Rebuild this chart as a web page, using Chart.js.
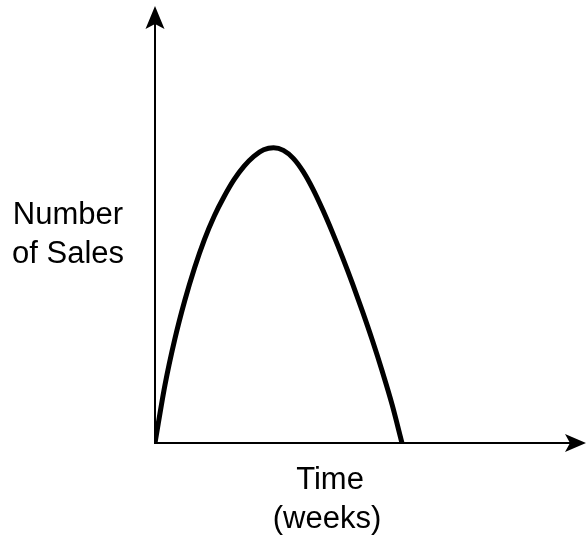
<!DOCTYPE html>
<html lang="en">
  <head>
    <meta charset="UTF-8" />
    <title>Sales over time</title>
    <script src="https://cdn.jsdelivr.net/npm/chart.js@4.4.0/dist/chart.umd.min.js"></script>
    <style>
      body { margin: 0; background: #fff; }
    </style>
  </head>
<body>
<canvas id="chart" width="587" height="536"></canvas>
<script>
  // values (weeks vs. relative sales)
  const weeks = [0, 0.4, 0.8, 1.2, 1.6, 2.0, 2.4, 2.8, 3.2, 3.6, 4.0, 4.4, 4.8,
                 5.2, 5.6, 6.0, 6.4, 6.8, 7.2, 7.6, 8.0, 8.4, 8.8, 9.2, 9.6, 10.0];
  const sales = [0, 19.5, 35.1, 48.1, 59.3, 68.9, 76.9, 83.5, 89.2, 93.7, 97.1, 99.3, 100,
                 99.1, 96.4, 91.9, 85.9, 78.8, 71.0, 62.7, 53.9, 44.6, 34.8, 24.3, 13.0, 0];
  const yLabel = ['Number', 'of Sales'];
  const xLabel = ['Time', '(weeks)'];

  const points = weeks.map((w, i) => ({ x: w, y: sales[i] }));

  // draws the two axes with arrow heads and the labels
  const axesPlugin = {
    id: 'axes',
    afterDraw(chart) {
      const ctx = chart.ctx;
      const x0 = chart.scales.x.getPixelForValue(0);
      const y0 = chart.scales.y.getPixelForValue(0);
      const top = chart.chartArea.top;
      const right = chart.chartArea.right;
      ctx.save();
      ctx.strokeStyle = '#000';
      ctx.fillStyle = '#000';
      ctx.lineWidth = 2;
      ctx.beginPath();
      ctx.moveTo(x0, y0 + 1);
      ctx.lineTo(x0, top + 15);
      ctx.moveTo(x0 - 1, y0);
      ctx.lineTo(right - 15, y0);
      ctx.stroke();

      // y arrow
      ctx.beginPath();
      ctx.moveTo(x0, top);
      ctx.lineTo(x0 + 9.5, top + 23);
      ctx.lineTo(x0, top + 18);
      ctx.lineTo(x0 - 9.5, top + 23);
      ctx.closePath();
      ctx.fill();
      // x arrow
      ctx.beginPath();
      ctx.moveTo(right, y0);
      ctx.lineTo(right - 21, y0 - 9);
      ctx.lineTo(right - 16, y0);
      ctx.lineTo(right - 21, y0 + 9);
      ctx.closePath();
      ctx.fill();

      ctx.font = '31px "Liberation Sans", Arial, sans-serif';
      ctx.textAlign = 'center';
      ctx.textBaseline = 'alphabetic';
      ctx.fillText(yLabel[0], 68, 224);
      ctx.fillText(yLabel[1], 68, 263);
      ctx.fillText(xLabel[0], 330, 489);
      ctx.fillText(xLabel[1], 327, 528);
      ctx.restore();
    }
  };

  new Chart(document.getElementById('chart'), {
    type: 'line',
    data: {
      datasets: [{
        data: points,
        borderColor: '#000',
        borderWidth: 5,
        pointRadius: 0,
        cubicInterpolationMode: 'monotone',
        fill: false
      }]
    },
    options: {
      responsive: false,
      animation: false,
      layout: { padding: { left: 155, right: 1, top: 6, bottom: 93 } },
      plugins: { legend: { display: false }, tooltip: { enabled: false } },
      scales: {
        x: { type: 'linear', min: 0, max: 17.45, display: false },
        y: { min: 0, max: 148, display: false }
      }
    },
    plugins: [axesPlugin]
  });
</script>
</body>
</html>
